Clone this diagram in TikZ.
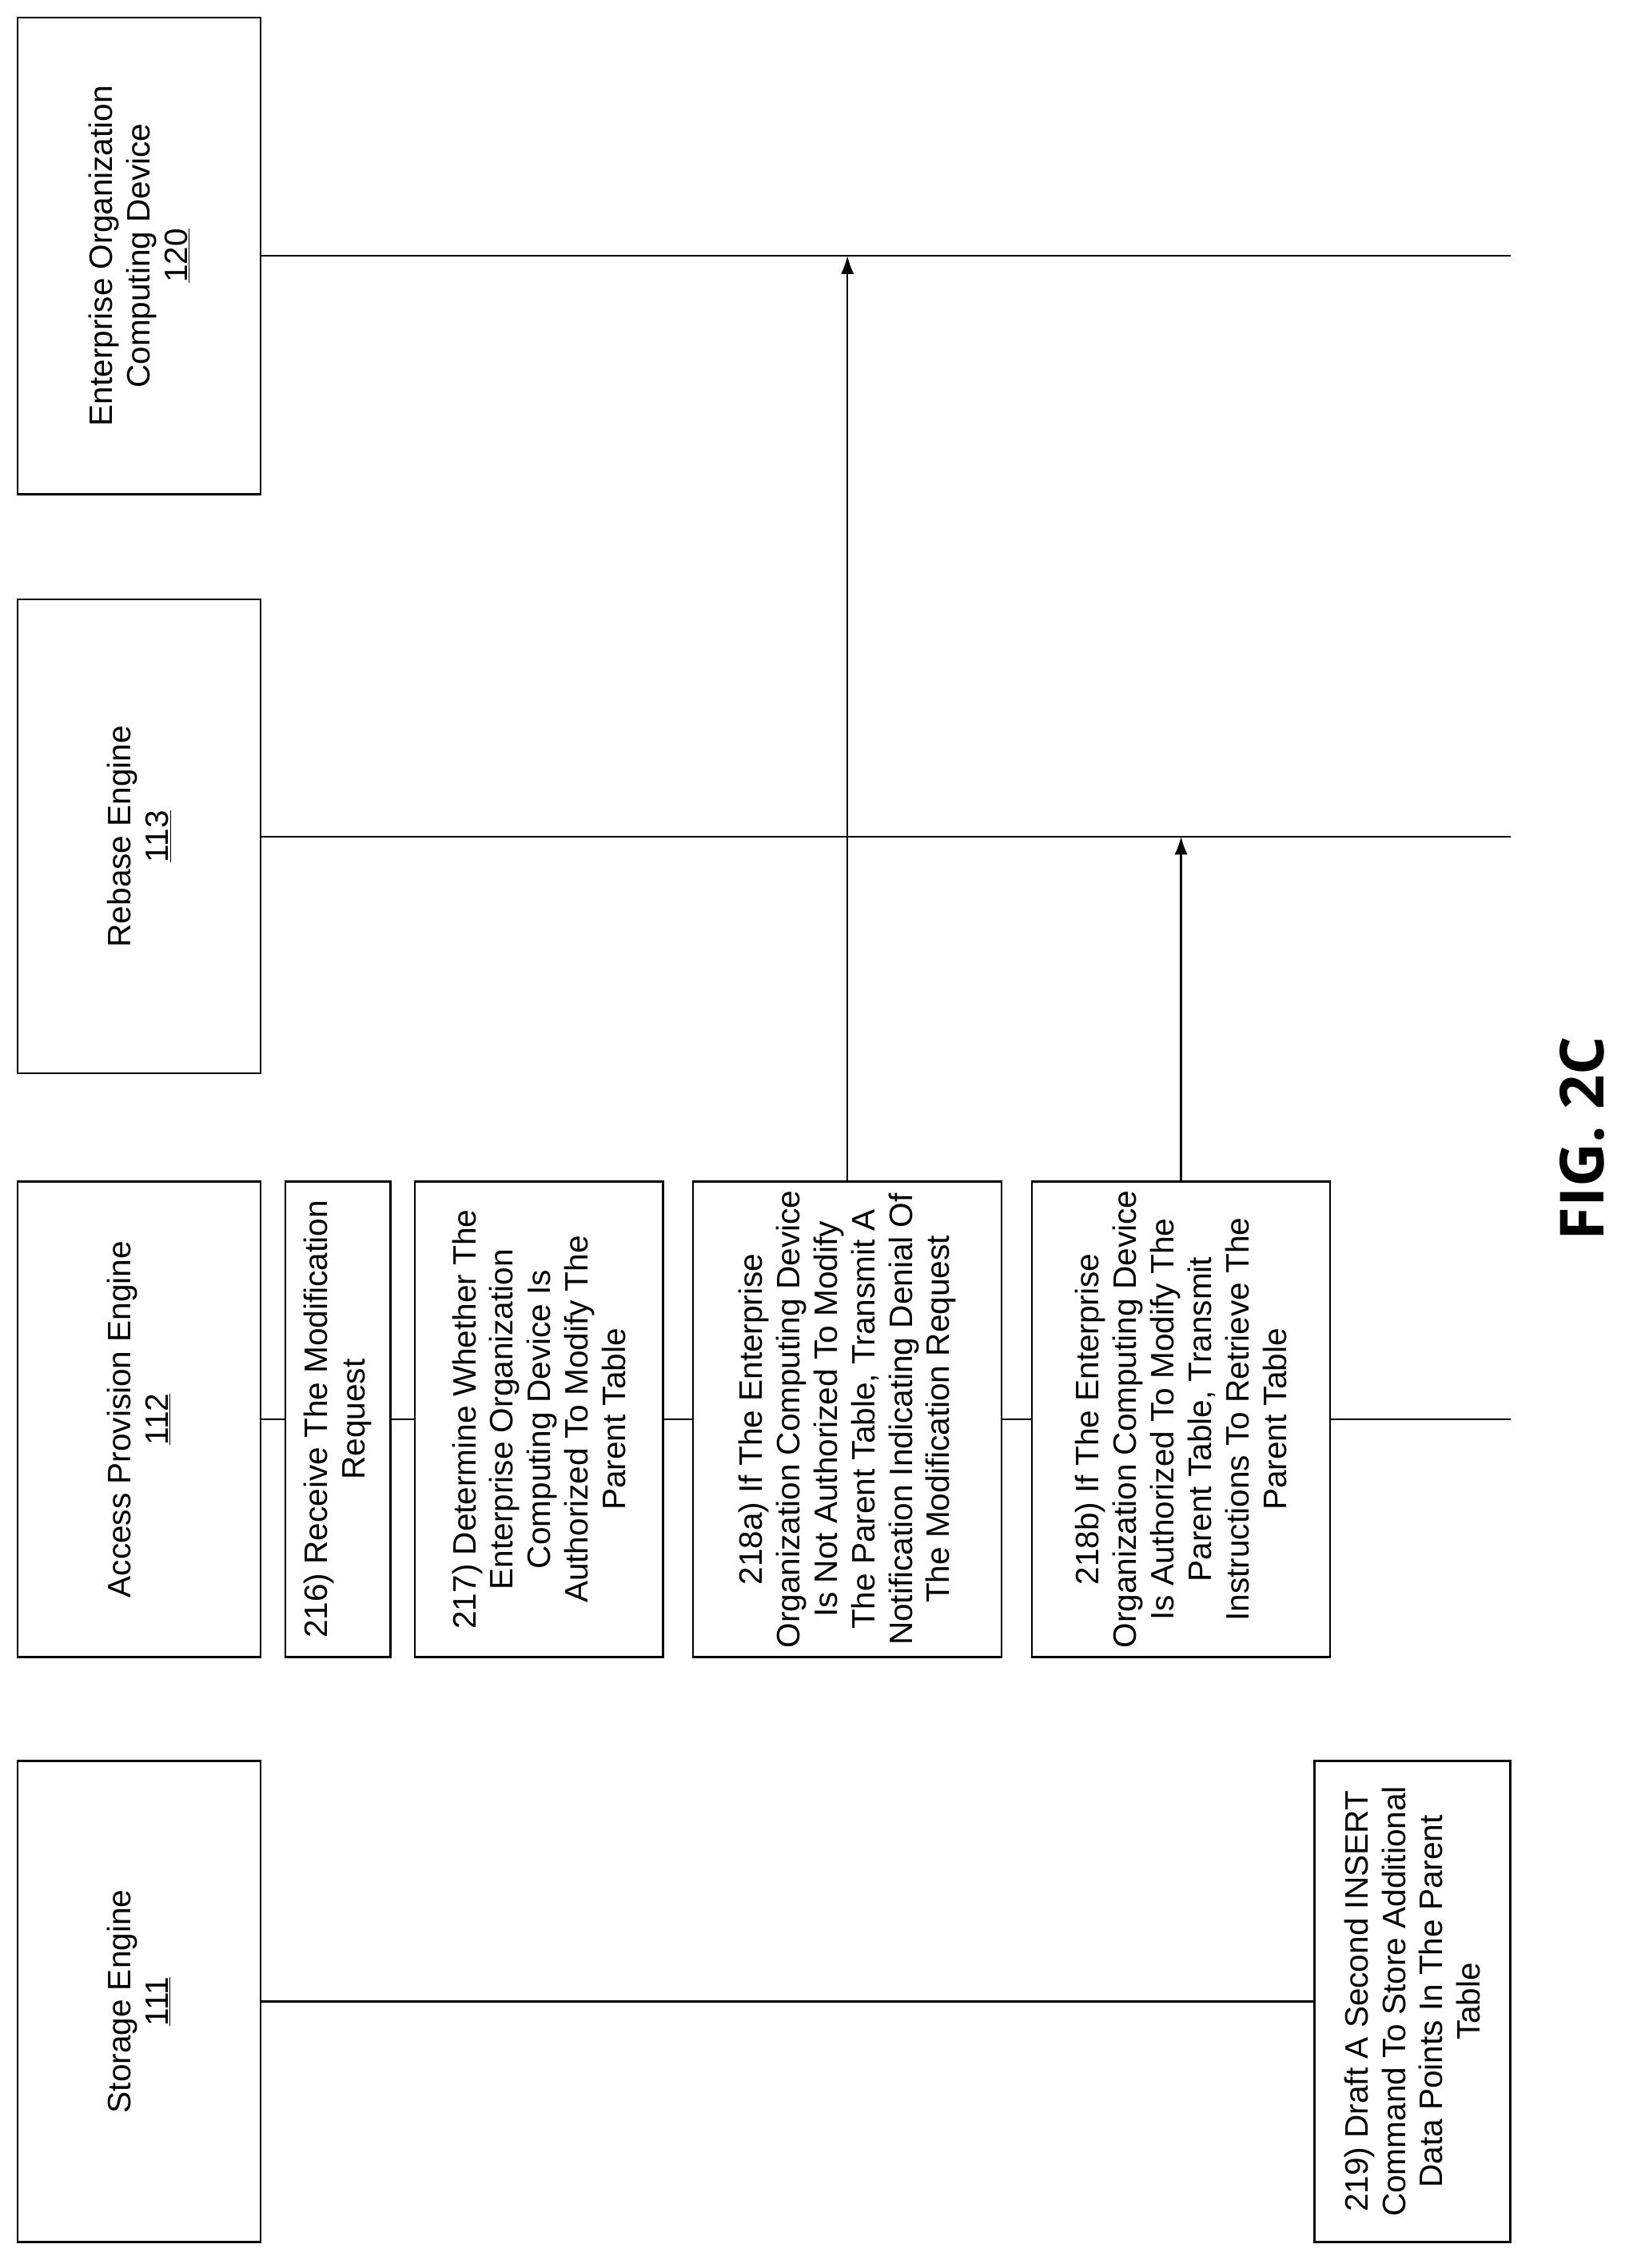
\documentclass[tikz,border=0pt]{standalone}
\usepackage{fontspec}
\setmainfont{Liberation Sans}
\newfontfamily\figfont{Open Sans}
\usetikzlibrary{arrows.meta}
\begin{document}
\begin{tikzpicture}[x=0.05cm,y=-0.05cm,
  box/.style={draw,line width=1.8pt,rotate=90,align=center,inner sep=0pt,font=\fontsize{32}{37}\selectfont},
  hdr/.style={box,minimum height=8.45cm},
  ln/.style={line width=1.8pt},
  arr/.style={ln,-{Latex[length=18pt,width=13pt]}}]
\useasboundingbox (0,0) rectangle (1130,1574);
\node[hdr,minimum width=16.55cm] (ent) at (96.5,177.5) {Enterprise Organization\\Computing Device\\\underline{120}};
\node[hdr,minimum width=16.45cm] (reb) at (96.5,580.5) {Rebase Engine\\\underline{113}};
\node[hdr,minimum width=16.5cm] (acc) at (96.5,985) {Access Provision Engine\\\underline{112}};
\node[hdr,minimum width=16.7cm] (sto) at (96.5,1389) {Storage Engine\\\underline{111}};
\node[box,minimum width=16.5cm,minimum height=3.65cm] (s216) at (234.5,985) {216) Receive The Modification\\Request};
\node[box,minimum width=16.5cm,minimum height=8.6cm] (s217) at (374,985) {217) Determine Whether The\\Enterprise Organization\\Computing Device Is\\Authorized To Modify The\\Parent Table};
\node[box,minimum width=16.5cm,minimum height=10.7cm] (s218a) at (588,985) {218a) If The Enterprise\\Organization Computing Device\\Is Not Authorized To Modify\\The Parent Table, Transmit A\\Notification Indicating Denial Of\\The Modification Request};
\node[box,minimum width=16.5cm,minimum height=10.35cm] (s218b) at (819.5,985) {218b) If The Enterprise\\Organization Computing Device\\Is Authorized To Modify The\\Parent Table, Transmit\\Instructions To Retrieve The\\Parent Table};
\node[box,minimum width=16.7cm,minimum height=6.8cm] (s219) at (980,1389) {219) Draft A Second INSERT\\Command To Store Additional\\Data Points In The Parent\\Table};
\coordinate (entEnd) at (1048,177.5);
\coordinate (rebEnd) at (1048,580.5);
\coordinate (accEnd) at (1048,985);
\draw[ln] (ent.south) -- (entEnd);
\draw[ln] (reb.south) -- (rebEnd);
\draw[ln] (acc.south) -- (s216.north);
\draw[ln] (s216.south) -- (s217.north);
\draw[ln] (s217.south) -- (s218a.north);
\draw[ln] (s218a.south) -- (s218b.north);
\draw[ln] (s218b.south) -- (accEnd);
\draw[ln] (sto.south) -- (s219.north);
\draw[arr] (s218a.east) -- (s218a.east |- ent.south);
\draw[arr] (s218b.east) -- (s218b.east |- reb.south);
\node[rotate=90,font=\figfont\bfseries\fontsize{60}{70}\selectfont] (fig) at (1098,790) {FIG. 2C};
\end{tikzpicture}
\end{document}
